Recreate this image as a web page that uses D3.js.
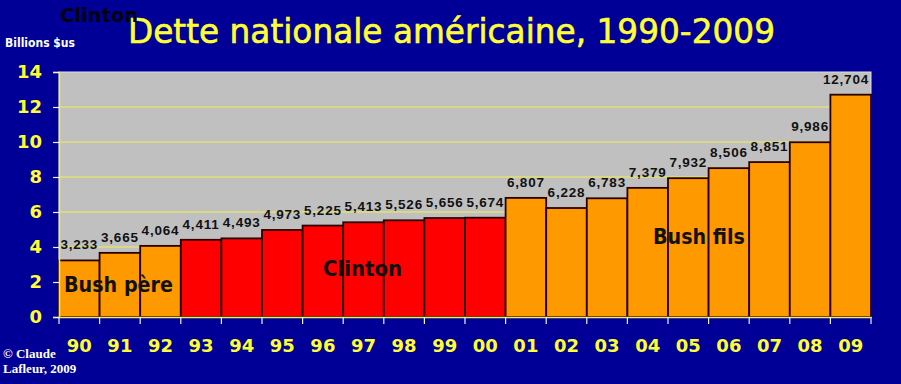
<!DOCTYPE html>
<html><head><meta charset="utf-8">
<script src="https://cdn.jsdelivr.net/npm/d3@7"></script>
<style>html,body{margin:0;padding:0;background:#000096;}svg{display:block;}</style>
</head><body>
<script>
const years = ["90","91","92","93","94","95","96","97","98","99","00","01","02","03","04","05","06","07","08","09"];
const debt = [3.233,3.665,4.064,4.411,4.493,4.973,5.225,5.413,5.526,5.656,5.674,6.807,6.228,6.783,7.379,7.932,8.506,8.851,9.986,12.704];
const labels = ["3,233","3,665","4,064","4,411","4,493","4,973","5,225","5,413","5,526","5,656","5,674","6,807","6,228","6,783","7,379","7,932","8,506","8,851","9,986","12,704"];
const president = ["Bush père","Bush père","Bush père","Clinton","Clinton","Clinton","Clinton","Clinton","Clinton","Clinton","Clinton","Bush fils","Bush fils","Bush fils","Bush fils","Bush fils","Bush fils","Bush fils","Bush fils","Bush fils"];
const yTicks = [0,2,4,6,8,10,12,14];
const colors = {"Bush père":"#ff9900","Clinton":"#ff0000","Bush fils":"#ff9900"};

const W=901,H=384;
const m={left:59,right:30,top:72,bottom:67};
const svg=d3.select("body").append("svg").attr("width",W).attr("height",H);
svg.append("rect").attr("width",W).attr("height",H).attr("fill","#000096");

const x=d3.scaleBand().domain(years).range([m.left,W-m.right]).padding(0);
const y=d3.scaleLinear().domain([0,14]).range([H-m.bottom,m.top]);
const right=x.range()[1];

// plot area
svg.append("rect").attr("x",m.left).attr("y",y(14)).attr("width",right-m.left).attr("height",y(0)-y(14))
  .attr("fill","#c0c0c0").attr("stroke","#dcdcdc").attr("stroke-width",1);

// gridlines
svg.append("g").selectAll("line").data(yTicks.filter(t=>t>0&&t<14)).join("line")
  .attr("x1",m.left).attr("x2",right).attr("y1",d=>y(d)).attr("y2",d=>y(d))
  .attr("stroke","#f0f050").attr("stroke-width",1.2);

// bars
svg.append("g").selectAll("rect").data(debt).join("rect")
  .attr("x",(d,i)=>x(years[i])).attr("y",d=>y(d)).attr("width",x.bandwidth()).attr("height",d=>y(0)-y(d))
  .attr("fill",(d,i)=>colors[president[i]]).attr("stroke","#2a0000").attr("stroke-width",1.8);

// value labels
const vl=svg.append("g").selectAll("text").data(debt).join("text")
  .attr("x",(d,i)=>x(years[i])+x.bandwidth()/2).attr("y",d=>y(d)-11)
  .attr("text-anchor","middle").attr("font-family","Liberation Sans").attr("font-weight","bold")
  .attr("font-size",13.5).attr("letter-spacing",0.8).attr("fill","#111").text((d,i)=>labels[i]);
vl.each(function(d,i){
  const w=this.getComputedTextLength();
  const cx=x(years[i])+x.bandwidth()/2;
  if(cx+w/2>right-3){d3.select(this).attr("text-anchor","end").attr("x",right-2);}
});

// y axis
const ya=svg.append("g").attr("transform",`translate(${m.left},0)`)
  .call(d3.axisLeft(y).tickValues(yTicks).tickSize(6).tickPadding(11).tickFormat(d3.format("d")));
ya.select(".domain").attr("stroke","#f0f050").attr("stroke-width",1.5);
ya.selectAll(".tick line").attr("stroke","#f0f0f0").attr("stroke-width",1.2);
ya.selectAll("text").attr("fill","#ffff33").attr("font-family","DejaVu Sans").attr("font-weight","bold").attr("font-size",18);

// x axis
const xa=svg.append("g").attr("transform",`translate(0,${y(0)})`)
  .call(d3.axisBottom(x).tickSize(0).tickPadding(22));
xa.select(".domain").attr("stroke","#f0f050").attr("stroke-width",1.5);
xa.selectAll("text").attr("fill","#ffff33").attr("font-family","DejaVu Sans").attr("font-weight","bold").attr("font-size",18);
svg.append("g").selectAll("line").data(years.concat(["end"])).join("line")
  .attr("x1",(d,i)=>m.left+i*x.bandwidth()).attr("x2",(d,i)=>m.left+i*x.bandwidth())
  .attr("y1",y(0)).attr("y2",y(0)+7).attr("stroke","#f0f0f0").attr("stroke-width",1.2);

// title and texts
svg.append("text").attr("x",128).attr("y",43)
  .attr("font-family","DejaVu Sans").attr("font-size",33).attr("fill","#ffff33")
  .attr("stroke","#ffff33").attr("stroke-width",0.6)
  .attr("textLength",647).attr("lengthAdjust","spacingAndGlyphs").text("Dette nationale américaine, 1990-2009");
svg.append("text").attr("x",60).attr("y",22).attr("font-family","DejaVu Sans").attr("font-weight","bold")
  .attr("font-size",20).attr("fill","#000010").attr("textLength",78).attr("lengthAdjust","spacingAndGlyphs").text("Clinton");
svg.append("text").attr("x",5).attr("y",47).attr("font-family","DejaVu Sans").attr("font-weight","bold")
  .attr("font-size",11.5).attr("fill","#fff").attr("textLength",70).attr("lengthAdjust","spacingAndGlyphs").text("Billions $us");

// annotations
const ann=[{t:"Bush père",x:64,y:292,w:109},{t:"Clinton",x:323,y:276,w:79},{t:"Bush fils",x:653,y:244,w:92}];
svg.append("g").selectAll("text").data(ann).join("text").attr("x",d=>d.x).attr("y",d=>d.y)
  .attr("font-family","DejaVu Sans").attr("font-weight","bold").attr("font-size",22).attr("fill","#111")
  .attr("textLength",d=>d.w).attr("lengthAdjust","spacingAndGlyphs").text(d=>d.t);

svg.append("text").attr("x",3).attr("y",358).attr("font-family","Liberation Serif").attr("font-weight","bold")
  .attr("font-size",13).attr("fill","#fff").text("© Claude");
svg.append("text").attr("x",3).attr("y",373).attr("font-family","Liberation Serif").attr("font-weight","bold")
  .attr("font-size",13).attr("fill","#fff").text("Lafleur, 2009");
</script>
</body></html>
